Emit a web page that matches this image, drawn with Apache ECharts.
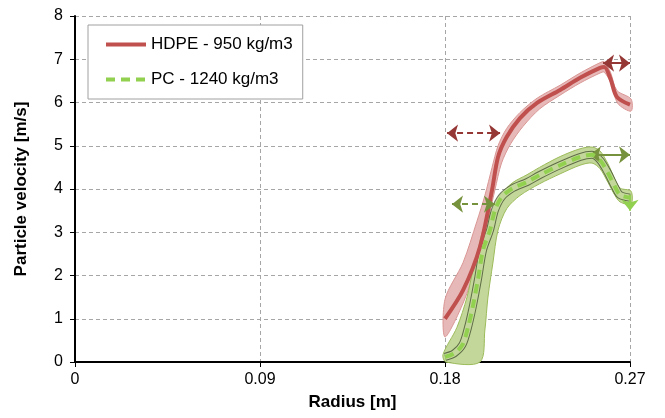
<!DOCTYPE html>
<html>
<head>
<meta charset="utf-8">
<script src="https://cdn.jsdelivr.net/npm/echarts@6/dist/echarts.min.js"></script>
<style>
html, body { margin: 0; background: #fff; }
#chart-wrap { width: 665px; height: 418px; }
</style>
</head>
<body>
<div id="chart-wrap"></div>
<script>
// [radius m, velocity m/s]
var hdpeLine = [[0.18,1.0],[0.1888,1.66],[0.197,2.66],[0.2029,3.98],[0.2058,4.74],[0.210,5.2],[0.2165,5.64],[0.2248,5.99],[0.236,6.29],[0.2457,6.57],[0.2554,6.80],[0.2575,6.82],[0.2605,6.55],[0.2636,6.13],[0.27,5.95]];
var hdpeUpper = [[0.18,1.45],[0.1888,2.3],[0.1955,3.25],[0.1994,3.85],[0.2029,4.5],[0.2058,5.0],[0.210,5.4],[0.2165,5.77],[0.2248,6.1],[0.236,6.4],[0.2457,6.68],[0.2554,6.92],[0.2575,6.94],[0.2605,6.7],[0.2636,6.28],[0.2705,6.08]];
var hdpeLower = [[0.18,0.58],[0.1888,1.36],[0.1955,2.29],[0.2009,3.28],[0.2043,3.98],[0.2075,4.6],[0.212,5.05],[0.218,5.45],[0.226,5.85],[0.236,6.17],[0.2457,6.45],[0.2554,6.68],[0.2575,6.7],[0.261,6.42],[0.264,5.98],[0.2705,5.8]];

var pcLine = [[0.18,0.12],[0.1845,0.2],[0.1885,0.4],[0.1912,0.8],[0.1936,1.3],[0.196,1.9],[0.1985,2.59],[0.2019,3.05],[0.2043,3.51],[0.2077,3.82],[0.213,4.02],[0.2199,4.16],[0.226,4.32],[0.236,4.55],[0.2457,4.74],[0.2515,4.79],[0.2554,4.67],[0.2593,4.37],[0.2627,4.05],[0.2652,3.86],[0.27,3.8]];
var pcUpper = [[0.179,0.17],[0.1858,0.8],[0.1907,1.5],[0.1936,2.13],[0.1961,2.6],[0.1985,3.05],[0.2029,3.5],[0.2077,3.9],[0.213,4.15],[0.2199,4.33],[0.226,4.5],[0.236,4.75],[0.2457,4.93],[0.2515,4.97],[0.2554,4.88],[0.2593,4.58],[0.2627,4.22],[0.2652,4.02],[0.2705,3.95]];
var pcLower = [[0.1805,0.0],[0.197,0.0],[0.1994,0.74],[0.2009,1.5],[0.2033,2.29],[0.2058,3.05],[0.2101,3.55],[0.2165,3.85],[0.226,4.12],[0.236,4.35],[0.2457,4.55],[0.2515,4.6],[0.2554,4.47],[0.2593,4.15],[0.2627,3.85],[0.2652,3.7],[0.2705,3.65]];

// annotation arrows: [from, to]
var hdpeArrowDashed = [[0.181,5.29],[0.2068,5.29]];
var hdpeArrowSolid = [[0.2569,6.91],[0.27,6.91]];
var pcArrowDashed = [[0.1834,3.65],[0.2043,3.65]];
var pcArrowSolid = [[0.2505,4.79],[0.27,4.79]];
var pcArrowDown = [[0.27,3.86],[0.27,3.5]];

var xTicks = [0, 0.09, 0.18, 0.27];
var yMax = 8;

var txt = 'Liberation Sans, Arial, sans-serif';
var mychart = echarts.init(document.getElementById('chart-wrap'));

function band(name, upper, lower, fill, stroke) {
    return {
        type: 'custom',
        name: name,
        data: [[0.2, 4]],
        silent: true,
        clip: false,
        z: 1,
        renderItem: function (params, api) {
            var pts = [];
            for (var i = 0; i < upper.length; i++) pts.push(api.coord(upper[i]));
            for (var j = lower.length - 1; j >= 0; j--) pts.push(api.coord(lower[j]));
            return {
                type: 'polygon',
                shape: { points: pts, smooth: 0.3 },
                style: { fill: fill, stroke: stroke, lineWidth: 1 }
            };
        }
    };
}

function arrow(pair, color, dashed, syms) {
    return [
        { coord: pair[0], symbol: syms[0], lineStyle: { color: color, width: 2, type: dashed ? [6, 4] : 'solid' } },
        { coord: pair[1], symbol: syms[1] }
    ];
}

var option = {
    animation: false,
    grid: { left: 75, right: 35, top: 16, bottom: 56 },
    legend: {
        left: 88, top: 25,
        orient: 'vertical',
        data: ['HDPE - 950 kg/m3', 'PC - 1240 kg/m3'],
        itemWidth: 40, itemHeight: 14, itemGap: 18,
        padding: [11, 10, 11, 16],
        backgroundColor: '#fff',
        borderColor: '#a0a0a0', borderWidth: 1,
        itemStyle: { color: 'transparent', borderWidth: 0 },
        lineStyle: { width: 4 },
        textStyle: { fontSize: 17, color: '#000', fontFamily: txt },
        selectedMode: false
    },
    xAxis: {
        type: 'value', min: 0, max: 0.27, interval: 0.09,
        name: 'Radius [m]', nameLocation: 'middle', nameGap: 32,
        nameTextStyle: { fontWeight: 'bold', fontSize: 17, color: '#000', fontFamily: txt },
        axisLine: { onZero: false, lineStyle: { color: '#000', width: 2 } },
        axisTick: { show: true, length: 5, lineStyle: { color: '#000' } },
        axisLabel: {
            fontSize: 16, color: '#000', margin: 10, fontFamily: txt,
            formatter: function (v) {
                for (var i = 0; i < xTicks.length; i++) if (Math.abs(v - xTicks[i]) < 1e-6) return String(xTicks[i]);
                return '';
            }
        },
        splitLine: { show: true, lineStyle: { type: [4, 3], color: '#a6a6a6' } }
    },
    yAxis: {
        type: 'value', min: 0, max: yMax, interval: 1,
        name: 'Particle velocity [m/s]', nameLocation: 'middle', nameGap: 45,
        nameTextStyle: { fontWeight: 'bold', fontSize: 17, color: '#000', fontFamily: txt },
        axisLine: { show: true, lineStyle: { color: '#000', width: 2 } },
        axisTick: { show: true, length: 5, lineStyle: { color: '#000' } },
        axisLabel: { fontSize: 16, color: '#000', margin: 12, fontFamily: txt },
        splitLine: { show: true, lineStyle: { type: [4, 3], color: '#a6a6a6' } }
    },
    series: [
        band('hdpe band', hdpeUpper, hdpeLower, '#e6b9b8', '#d99694'),
        band('pc band', pcUpper, pcLower, '#c4d79b', '#9bbb59'),
        {
            name: 'pc edge', type: 'line', data: pcLine, symbol: 'none', smooth: 0.3, z: 2, silent: true,
            lineStyle: { color: '#3c4a28', width: 8, opacity: 0.75 }
        },
        {
            name: 'pc core', type: 'line', data: pcLine, symbol: 'none', smooth: 0.3, z: 3, silent: true,
            lineStyle: { color: '#c4d79b', width: 6 }
        },
        {
            name: 'HDPE - 950 kg/m3', type: 'line', data: hdpeLine, symbol: 'none', smooth: 0.3, z: 4,
            lineStyle: { color: '#c0504d', width: 4 },
            itemStyle: { color: '#c0504d' },
            markLine: {
                silent: true, symbolSize: [13, 11], label: { show: false },
                data: [
                    arrow(hdpeArrowDashed, '#953735', true, ['arrow', 'arrow']),
                    arrow(hdpeArrowSolid, '#953735', false, ['arrow', 'arrow'])
                ]
            }
        },
        {
            name: 'PC - 1240 kg/m3', type: 'line', data: pcLine, symbol: 'none', smooth: 0.3, z: 5,
            lineStyle: { color: '#92d050', width: 4, type: [9, 6] },
            itemStyle: { color: '#92d050' },
            markLine: {
                silent: true, symbolSize: [13, 11], label: { show: false },
                data: [
                    arrow(pcArrowDashed, '#76923c', true, ['arrow', 'arrow']),
                    arrow(pcArrowSolid, '#76923c', false, ['arrow', 'arrow']),
                    arrow(pcArrowDown, '#92d050', false, ['none', 'arrow'])
                ]
            }
        }
    ]
};
mychart.setOption(option);
</script>
</body>
</html>
